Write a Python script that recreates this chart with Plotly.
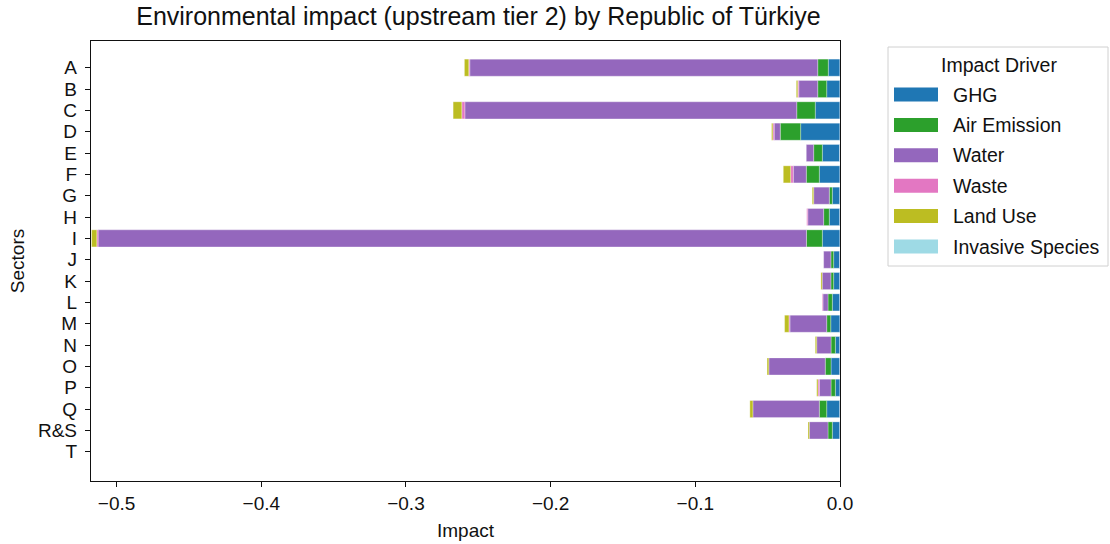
import plotly.graph_objects as go

# Sector codes (top to bottom)
sectors = ["A", "B", "C", "D", "E", "F", "G", "H", "I", "J",
           "K", "L", "M", "N", "O", "P", "Q", "R&S", "T"]

# Impact per driver and sector
ghg = [-0.0081, -0.0092, -0.0171, -0.0272, -0.0122, -0.0143, -0.0053, -0.0074, -0.0122, -0.0044,
       -0.0044, -0.0053, -0.0064, -0.0032, -0.0062, -0.0032, -0.0092, -0.0053, 0.0]
air_emission = [-0.0073, -0.0062, -0.0128, -0.0141, -0.0060, -0.0090, -0.0021, -0.0039, -0.0110, -0.0019,
                -0.0019, -0.0030, -0.0028, -0.0030, -0.0040, -0.0030, -0.0051, -0.0030, 0.0]
water = [-0.2405, -0.0131, -0.2294, -0.0042, -0.0051, -0.0090, -0.0108, -0.0110, -0.4896, -0.0050,
         -0.0060, -0.0035, -0.0254, -0.0099, -0.0390, -0.0081, -0.0459, -0.0129, 0.0]
waste = [-0.0007, -0.0007, -0.0021, -0.0009, 0.0, -0.0018, 0.0, -0.0007, -0.0009, 0.0,
         0.0, -0.0005, -0.0007, 0.0, 0.0, -0.0009, 0.0, 0.0, 0.0]
land_use = [-0.0030, -0.0010, -0.0060, -0.0009, 0.0, -0.0051, -0.0010, 0.0, -0.0036, 0.0,
            -0.0009, 0.0, -0.0030, -0.0010, -0.0012, -0.0009, -0.0021, -0.0009, 0.0]
invasive_species = [0.0] * len(sectors)

drivers = ["GHG", "Air Emission", "Water", "Waste", "Land Use", "Invasive Species"]
series = [ghg, air_emission, water, waste, land_use, invasive_species]
colors = ["#1f77b4", "#2ca02c", "#9467bd", "#e377c2", "#bcbd22", "#9edae5"]

x_ticks = [-0.5, -0.4, -0.3, -0.2, -0.1, 0.0]
x_tick_labels = ["\u22120.5", "\u22120.4", "\u22120.3", "\u22120.2", "\u22120.1", "0.0"]

FONT = "Liberation Sans, Arial, sans-serif"
TXT = "#111111"

fig = go.Figure()
for name, vals, col in zip(drivers, series, colors):
    fig.add_trace(go.Bar(
        y=sectors, x=vals, name=name, orientation="h",
        marker=dict(color=col, line=dict(color="rgba(255,255,255,0.6)", width=0.5)),
        width=0.8, showlegend=False,
    ))

# Plot-area geometry in pixels (for placing the hand-built legend)
W, H = 1110, 544
L, R, T, B = 91, 840, 41, 481


def px(x):
    return (x - L) / (R - L)


def py(y):
    return (B - y) / (B - T)


shapes = []
annotations = []

# Legend frame
shapes.append(dict(type="rect", xref="paper", yref="paper",
                   x0=px(888), x1=px(1108), y0=py(266), y1=py(47),
                   line=dict(color="#d0d0d0", width=1), fillcolor="white", layer="below"))
annotations.append(dict(xref="paper", yref="paper", x=px(999), y=py(65),
                        text="Impact Driver", showarrow=False,
                        font=dict(family=FONT, size=19.5, color=TXT),
                        xanchor="center", yanchor="middle"))
for i, (name, col) in enumerate(zip(drivers, colors)):
    yc = 94.5 + i * 30.4
    shapes.append(dict(type="rect", xref="paper", yref="paper",
                       x0=px(894), x1=px(938), y0=py(yc + 7), y1=py(yc - 7),
                       line=dict(width=0), fillcolor=col))
    annotations.append(dict(xref="paper", yref="paper", x=px(951), y=py(yc),
                            text=name, showarrow=False,
                            font=dict(family=FONT, size=19.5, color=TXT),
                            xanchor="left", yanchor="middle"))

fig.update_layout(
    width=W, height=H,
    barmode="relative",
    bargap=0.2,
    paper_bgcolor="white", plot_bgcolor="white",
    margin=dict(l=L, r=W - R, t=T, b=H - B, autoexpand=False),
    font=dict(family=FONT, size=19, color=TXT),
    title=dict(text="Environmental impact (upstream tier 2) by Republic of Türkiye",
               x=px(478.5), xref="paper", xanchor="center", y=1 - 16 / H, yanchor="middle",
               font=dict(family=FONT, size=25, color=TXT)),
    shapes=shapes,
    annotations=annotations,
)

fig.update_xaxes(
    range=[-0.5177, 0.0],
    automargin=False,
    tickmode="array", tickvals=x_ticks, ticktext=x_tick_labels,
    ticks="outside", ticklen=5, tickcolor=TXT, tickwidth=1.2,
    showgrid=False, zeroline=False,
    showline=True, linecolor=TXT, linewidth=1.3, mirror=True,
    title=dict(text="Impact", font=dict(family=FONT, size=19), standoff=10),
    tickfont=dict(family=FONT, size=19),
)
fig.update_yaxes(
    type="category",
    range=[19.37, -1.25],
    automargin=False,
    tickmode="array", tickvals=sectors, ticktext=sectors,
    ticks="outside", ticklen=5, tickcolor=TXT, tickwidth=1.2,
    ticklabelstandoff=4,
    showgrid=False, zeroline=False,
    showline=True, linecolor=TXT, linewidth=1.3, mirror=True,
    title=dict(text="Sectors", font=dict(family=FONT, size=19), standoff=8),
    tickfont=dict(family=FONT, size=19),
)

fig.write_html("out.html")
